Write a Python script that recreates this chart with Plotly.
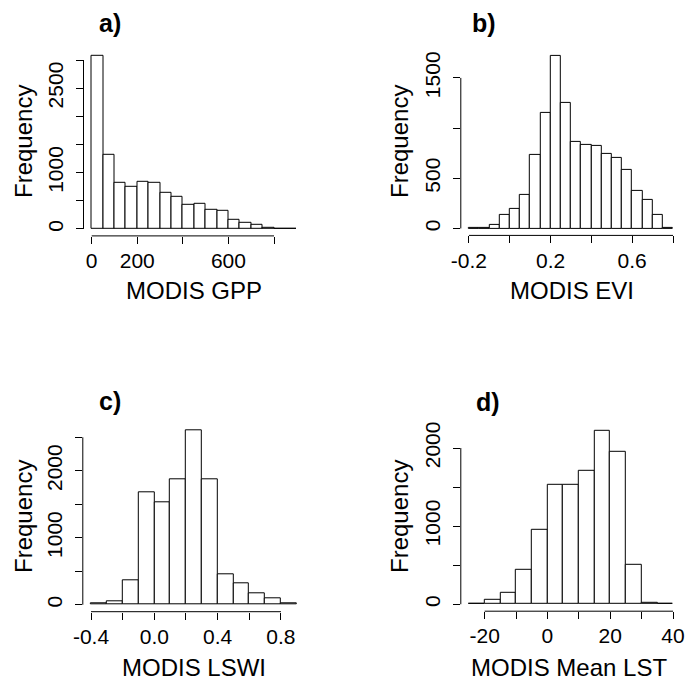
import plotly.graph_objects as go

# ---------------- data ----------------
gpp_start = 0
gpp_binwidth = 50
gpp_counts = [3075, 1312, 827, 746, 840, 817, 651, 568, 437, 455, 337, 315, 168, 105, 71, 26, 6, 3]

evi_start = -0.2
evi_binwidth = 0.05
evi_counts = [5, 8, 38, 131, 192, 337, 730, 1153, 1722, 1247, 860, 830, 820, 747, 703, 587, 370, 280, 137, 10]

lswi_start = -0.4
lswi_binwidth = 0.1
lswi_counts = [15, 45, 370, 1675, 1535, 1870, 2600, 1880, 455, 325, 175, 90, 20]

lst_start = -25
lst_binwidth = 5
lst_counts = [4, 51, 145, 439, 955, 1535, 1535, 1714, 2221, 1952, 499, 21, 3]

panel_labels = ["a)", "b)", "c)", "d)"]
x_titles = ["MODIS GPP", "MODIS EVI", "MODIS LSWI", "MODIS Mean LST"]
y_title = "Frequency"

x_tickvals = [[0, 200, 400, 600, 800],
              [-0.2, 0.0, 0.2, 0.4, 0.6, 0.8],
              [-0.4, -0.2, 0.0, 0.2, 0.4, 0.6, 0.8],
              [-20, -10, 0, 10, 20, 30, 40]]
x_ticktext = [["0", "200", "", "600", ""],
              ["-0.2", "", "0.2", "", "0.6", ""],
              ["-0.4", "", "0.0", "", "0.4", "", "0.8"],
              ["-20", "", "0", "", "20", "", "40"]]
y_tickvals = [[0, 500, 1000, 1500, 2000, 2500, 3000],
              [0, 500, 1000, 1500],
              [0, 500, 1000, 1500, 2000, 2500],
              [0, 500, 1000, 1500, 2000]]
y_ticktext = [["0", "", "1000", "", "", "2500", ""],
              ["0", "500", "", "1500"],
              ["0", "", "1000", "", "2000", ""],
              ["0", "", "1000", "", "2000"]]

# ---------------- layout geometry (pixels) ----------------
W, H = 686, 681
FONT = "Arial, Liberation Sans, Helvetica, sans-serif"

# per panel: x range, x domain px, y range, y domain px (top, bottom)
geom = [
    dict(xr=[-36, 936], xd=[83.5, 305.0], yr=[-123, 3199], yd=[48.8, 235.9]),
    dict(xr=[-0.24, 0.8637], xd=[460.8, 686.0], yr=[-69, 1799], yd=[47.9, 235.4]),
    dict(xr=[-0.452, 0.952], xd=[82.8, 305.0], yr=[-104, 2709], yd=[423.3, 611.7]),
    dict(xr=[-27.6, 42.6], xd=[460.8, 681.2], yr=[-88.8, 2310], yd=[423.8, 611.2]),
]
label_pos = [(110, 23), (484, 23), (110, 401), (488, 402)]
xtitle_pos = [(194, 290), (572, 290), (194, 667), (569, 667)]
ytitle_pos = [(23, 142), (399, 142), (23, 517), (399, 517)]

datasets = [(gpp_start, gpp_binwidth, gpp_counts),
            (evi_start, evi_binwidth, evi_counts),
            (lswi_start, lswi_binwidth, lswi_counts),
            (lst_start, lst_binwidth, lst_counts)]

fig = go.Figure()
shapes = []
annotations = []

for i, ((start, bw, counts), g) in enumerate(zip(datasets, geom)):
    n = i + 1
    xa = "x" if n == 1 else f"x{n}"
    ya = "y" if n == 1 else f"y{n}"
    centers = [start + bw * (k + 0.5) for k in range(len(counts))]
    fig.add_trace(go.Bar(
        x=centers, y=counts, width=[bw] * len(counts),
        marker=dict(color="white", line=dict(color="black", width=1)),
        xaxis=xa, yaxis=ya, showlegend=False, hoverinfo="x+y"))

    xkey = "xaxis" if n == 1 else f"xaxis{n}"
    ykey = "yaxis" if n == 1 else f"yaxis{n}"
    fig.update_layout(**{
        xkey: dict(domain=[g["xd"][0] / W, g["xd"][1] / W], range=g["xr"],
                   anchor=ya, showgrid=False, zeroline=False, showline=False,
                   automargin=False,
                   ticks="outside", ticklen=7, tickwidth=1, tickcolor="black",
                   tickmode="array", tickvals=x_tickvals[i], ticktext=x_ticktext[i],
                   tickfont=dict(family=FONT, size=21, color="black"),
                   ticklabelstandoff=-1, fixedrange=True),
        ykey: dict(domain=[1 - g["yd"][1] / H, 1 - g["yd"][0] / H], range=g["yr"],
                   anchor=xa, showgrid=False, zeroline=False, showline=False,
                   automargin=False,
                   ticks="outside", ticklen=7, tickwidth=1, tickcolor="black",
                   tickmode="array", tickvals=y_tickvals[i], ticktext=y_ticktext[i],
                   tickangle=-90,
                   tickfont=dict(family=FONT, size=21, color="black"),
                   ticklabelstandoff=4, fixedrange=True),
    })
    # R-style axis lines spanning first to last tick
    shapes.append(dict(type="line", xref=xa, yref=f"{ya} domain",
                       x0=x_tickvals[i][0], x1=x_tickvals[i][-1], y0=0, y1=0,
                       line=dict(color="black", width=1)))
    shapes.append(dict(type="line", xref=f"{xa} domain", yref=ya,
                       x0=0, x1=0, y0=y_tickvals[i][0], y1=y_tickvals[i][-1],
                       line=dict(color="black", width=1)))

    lx, ly = label_pos[i]
    annotations.append(dict(text=f"<b>{panel_labels[i]}</b>", xref="paper", yref="paper",
                            x=lx / W, y=1 - ly / H, xanchor="center", yanchor="middle",
                            showarrow=False, font=dict(family=FONT, size=25, color="black")))
    tx, ty = xtitle_pos[i]
    annotations.append(dict(text=x_titles[i], xref="paper", yref="paper",
                            x=tx / W, y=1 - ty / H, xanchor="center", yanchor="middle",
                            showarrow=False, font=dict(family=FONT, size=24, color="black")))
    vx, vy = ytitle_pos[i]
    annotations.append(dict(text=y_title, xref="paper", yref="paper", textangle=-90,
                            x=vx / W, y=1 - vy / H, xanchor="center", yanchor="middle",
                            showarrow=False, font=dict(family=FONT, size=24, color="black")))

fig.update_layout(width=W, height=H, margin=dict(l=0, r=0, t=0, b=0, pad=0),
                  paper_bgcolor="white", plot_bgcolor="white",
                  shapes=shapes, annotations=annotations, bargap=0)

fig.write_html("out.html", config={"displayModeBar": False},
               post_script="document.body.style.margin='0';document.body.style.padding='0';")
